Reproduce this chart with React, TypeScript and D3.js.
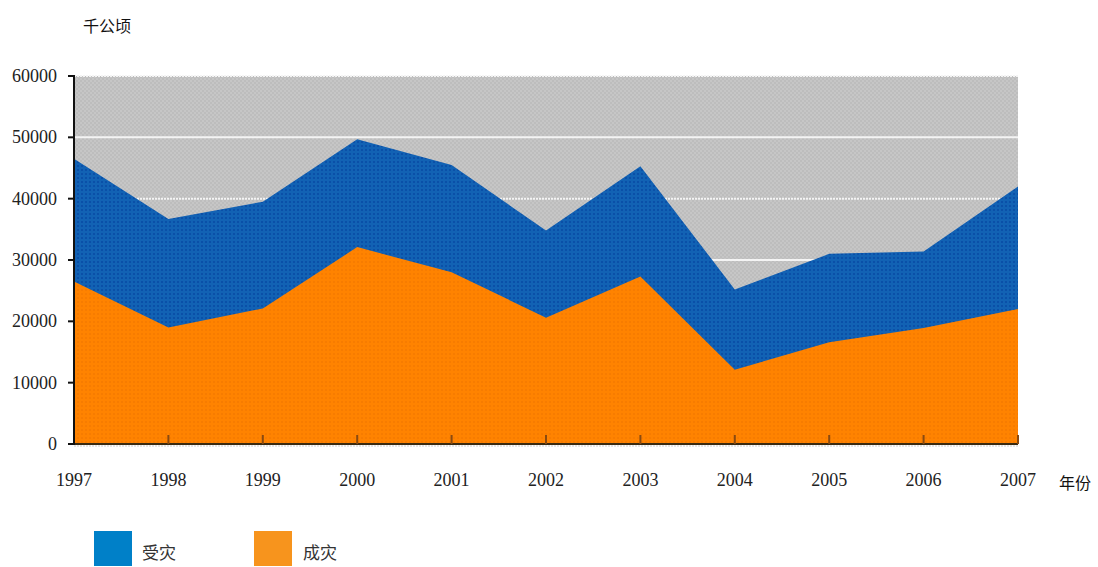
import React from 'react';
import * as d3 from 'd3';

// 年份
const years = [1997, 1998, 1999, 2000, 2001, 2002, 2003, 2004, 2005, 2006, 2007];
// 受灾面积（千公顷）
const affected = [46500, 36700, 39500, 49700, 45500, 34800, 45300, 25200, 31000, 31400, 42000];
// 成灾面积（千公顷）
const damaged = [26500, 19000, 22100, 32100, 28000, 20600, 27300, 12100, 16600, 18900, 22000];
const yTicks = [0, 10000, 20000, 30000, 40000, 50000, 60000];

const W = 1098;
const H = 567;
const margin = { left: 74, right: 80, top: 76, bottom: 123 };

export default function App() {
  const x = d3
    .scaleLinear()
    .domain([years[0], years[years.length - 1]])
    .range([margin.left, W - margin.right]);
  const y = d3
    .scaleLinear()
    .domain([0, 60000])
    .range([H - margin.bottom, margin.top]);

  const area = d3
    .area<number>()
    .x((d, i) => x(years[i]))
    .y0(y(0))
    .y1(d => d);

  const blueArea = area(affected.map(v => y(v)));
  const orangeArea = area(damaged.map(v => y(v)));

  const serif = '"Liberation Serif", "Times New Roman", serif';
  const sans = '"Noto Sans CJK SC", "Noto Sans", sans-serif';

  return (
    <svg
      width={W}
      height={H}
      style={{ position: 'absolute', left: 0, top: 0, background: '#fff' }}
    >
      <defs>
        <pattern id="grey" width="4" height="4" patternUnits="userSpaceOnUse">
          <rect width="4" height="4" fill="#c6c6c6" />
          <rect width="2" height="2" fill="#bdbdbd" />
          <rect x="2" y="2" width="2" height="2" fill="#bdbdbd" />
        </pattern>
        <pattern id="blue" width="4" height="4" patternUnits="userSpaceOnUse">
          <rect width="4" height="4" fill="#1262b4" />
          <rect x="1" y="1" width="2" height="2" fill="#0a50a8" />
        </pattern>
        <pattern id="orange" width="4" height="4" patternUnits="userSpaceOnUse">
          <rect width="4" height="4" fill="#ff8300" />
          <rect x="1" y="1" width="2" height="2" fill="#f77c00" />
        </pattern>
      </defs>

      {/* 背景 */}
      <rect
        x={margin.left}
        y={y(60000)}
        width={x(2007) - margin.left}
        height={y(0) - y(60000)}
        fill="url(#grey)"
      />
      {yTicks.slice(1).map(t => (
        <line
          key={t}
          x1={margin.left}
          x2={x(2007)}
          y1={y(t)}
          y2={y(t)}
          stroke="#f4f4f4"
          strokeWidth={2}
          strokeDasharray={t % 20000 === 0 ? '2,1' : undefined}
        />
      ))}

      <path d={blueArea || ''} fill="url(#blue)" />
      <path d={orangeArea || ''} fill="url(#orange)" />

      {/* x 轴 */}
      <line x1={margin.left} x2={x(2007)} y1={y(0)} y2={y(0)} stroke="#3a2a10" strokeWidth={2} />
      <line x1={margin.left} x2={x(2007)} y1={y(0) + 2} y2={y(0) + 2} stroke="#ccc" strokeWidth={1} strokeDasharray="2,1" />
      {years.slice(1).map(yr => (
        <line key={yr} x1={x(yr)} x2={x(yr)} y1={y(0)} y2={y(0) - 9} stroke="#8a4a10" strokeWidth={2} />
      ))}
      {years.map(yr => (
        <text
          key={yr}
          x={x(yr)}
          y={486}
          textAnchor="middle"
          fontFamily={serif}
          fontSize={18}
          fill="#222"
        >
          {yr}
        </text>
      ))}
      <text x={1059} y={489} fontFamily={sans} fontSize={16} fill="#111">年份</text>

      {/* y 轴 */}
      <line x1={margin.left} x2={margin.left} y1={y(60000) - 1} y2={y(0) + 1} stroke="#111" strokeWidth={2} />
      {yTicks.map(t => (
        <g key={t}>
          <line x1={margin.left - 6} x2={margin.left} y1={y(t)} y2={y(t)} stroke="#111" strokeWidth={2} />
          <text
            x={57}
            y={y(t) + 6}
            textAnchor="end"
            fontFamily={serif}
            fontSize={18}
            fill="#222"
          >
            {t}
          </text>
        </g>
      ))}
      <text x={83} y={32} fontFamily={sans} fontSize={16} fill="#111">千公顷</text>

      {/* 图例 */}
      <rect x={94} y={531} width={38} height={35} fill="#0080c8" />
      <text x={142} y={559} fontFamily={sans} fontSize={17} fill="#333">受灾</text>
      <rect x={254} y={531} width={38} height={35} fill="#f7941d" />
      <text x={303} y={559} fontFamily={sans} fontSize={17} fill="#333">成灾</text>
    </svg>
  );
}
